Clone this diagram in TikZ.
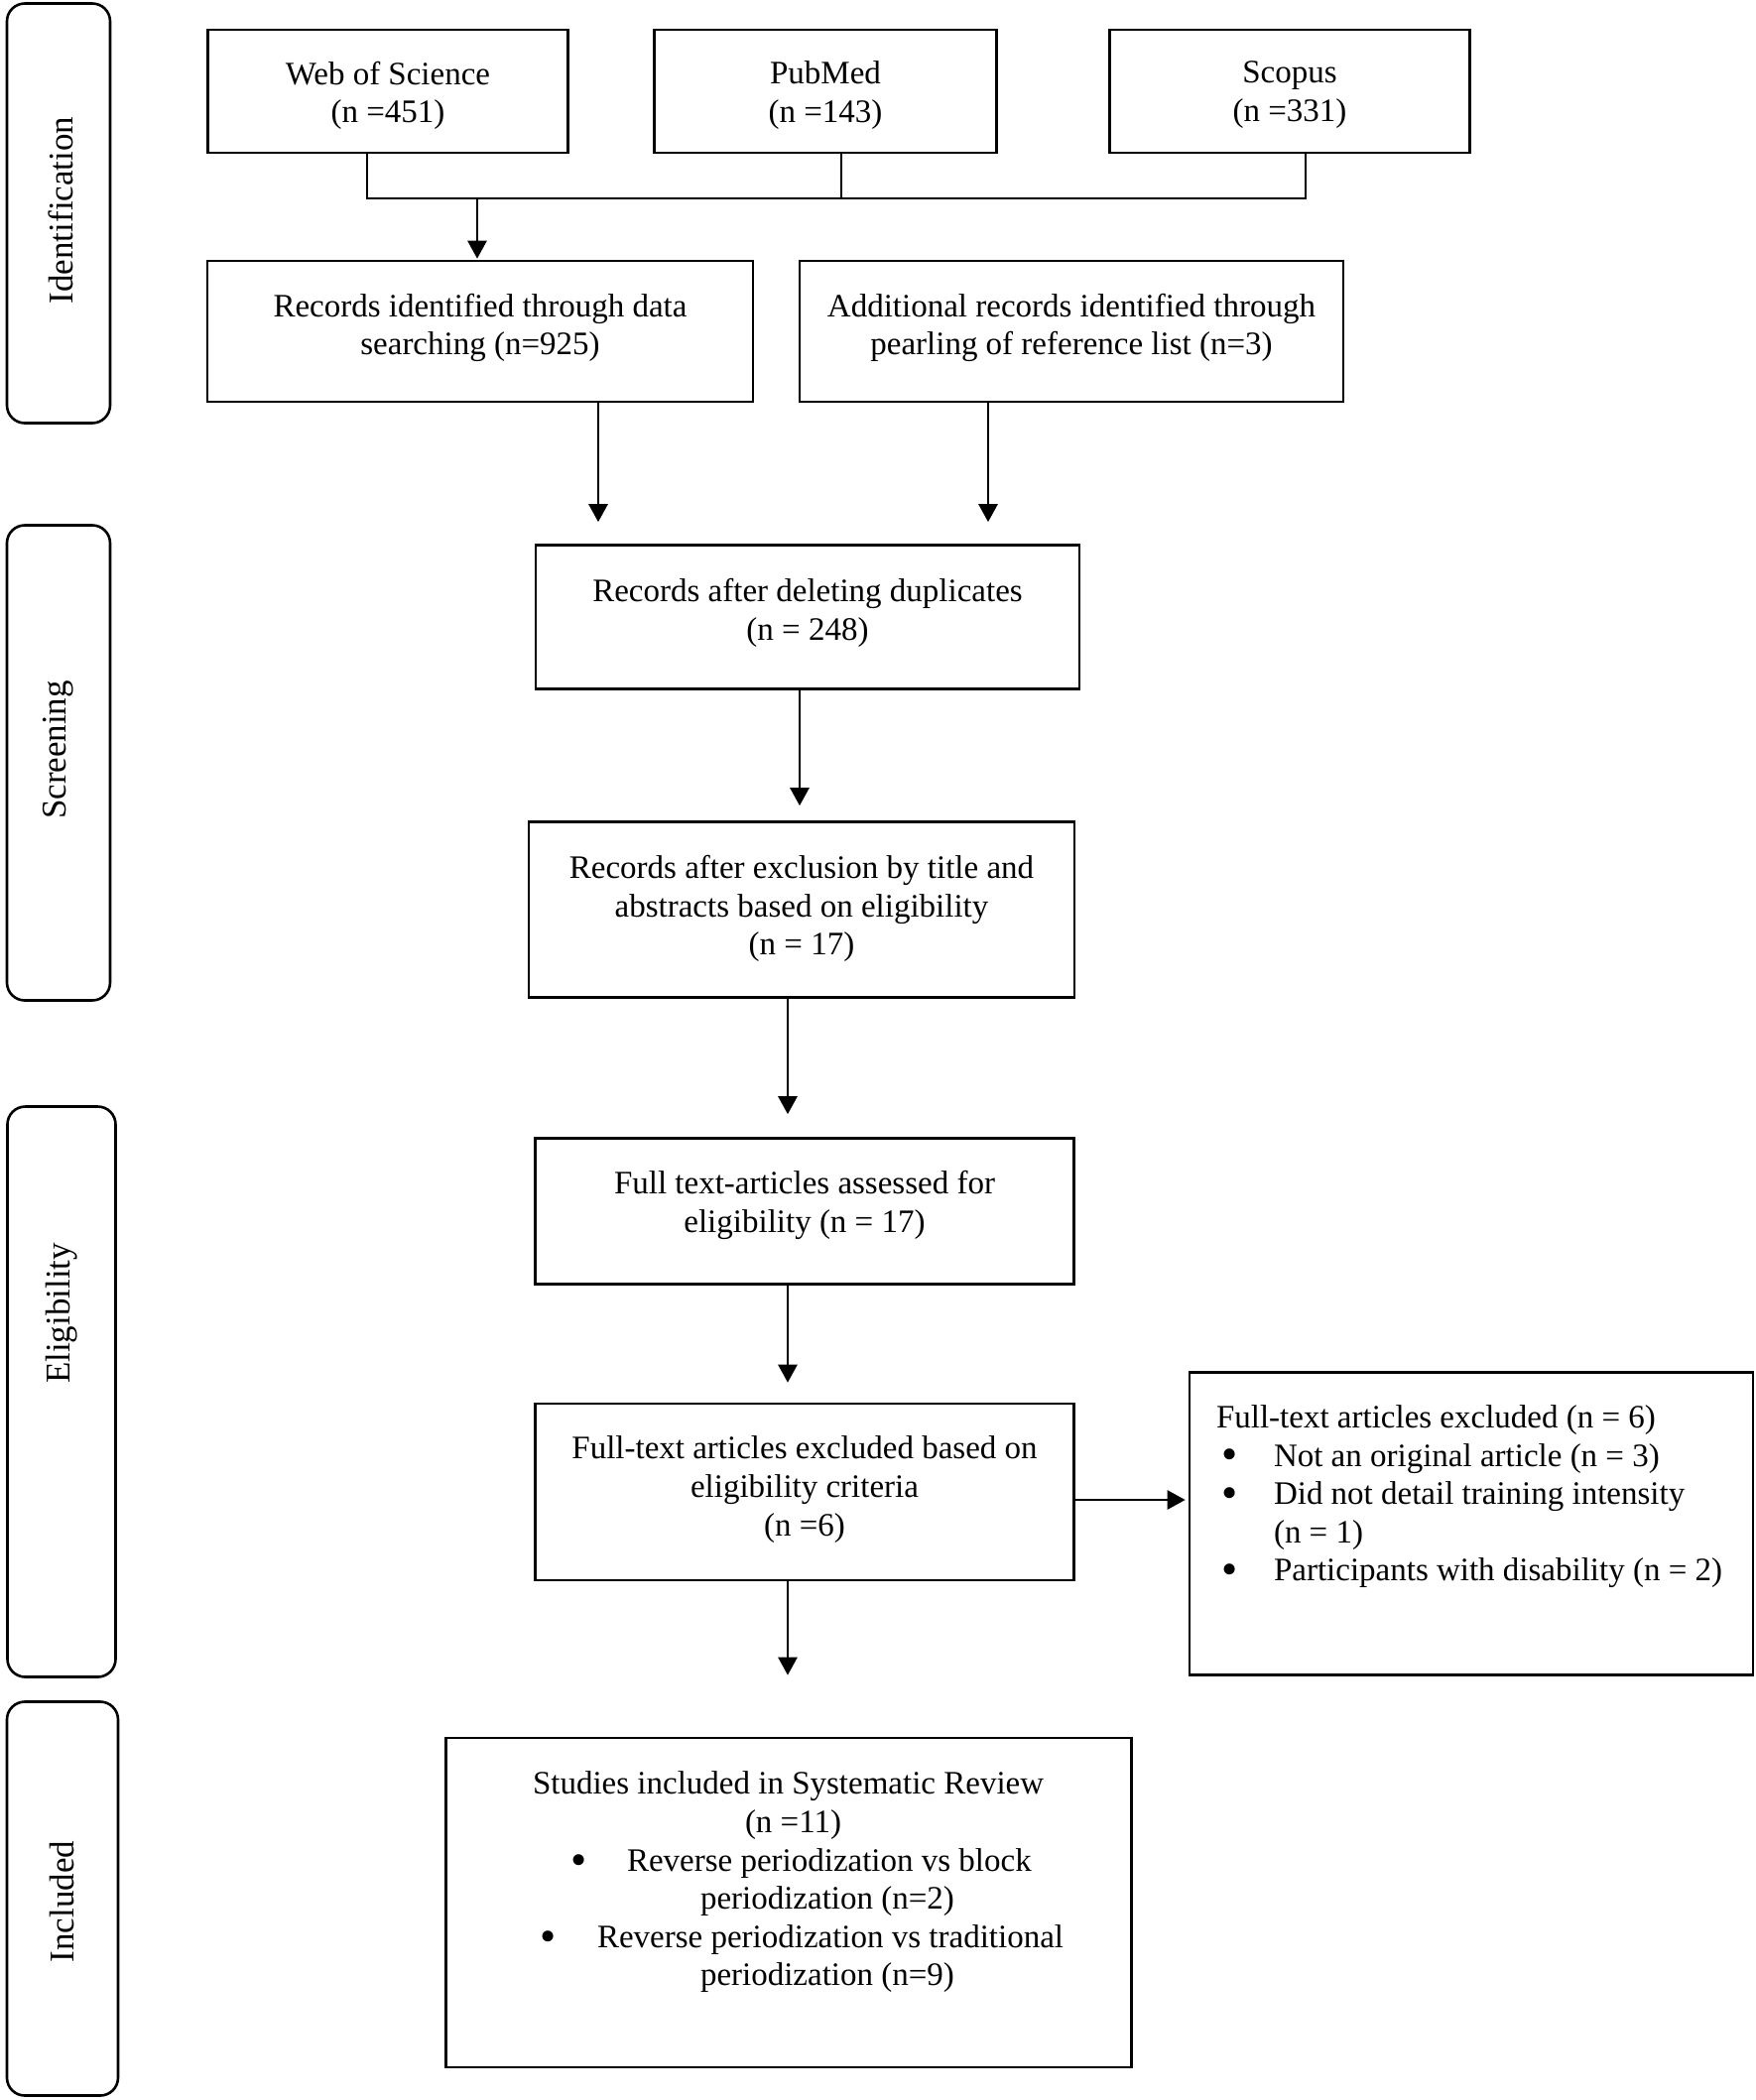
\documentclass[tikz,border=0pt]{standalone}
\usepackage{fontspec}
\setmainfont{Liberation Serif}
\usetikzlibrary{positioning,arrows.meta}

\tikzset{every picture/.style={line width=1.3pt}}
\tikzset{
  box/.style={draw, rectangle, inner sep=0pt},
  stage/.style={draw, rectangle, rounded corners=9pt, inner sep=0pt},
  stagetxt/.style={rotate=90, inner sep=0pt, font=\fontsize{17.5}{20}\selectfont},
  txt/.style={align=center, inner sep=0pt, font=\fontsize{16.5}{19.3}\selectfont},
  arr/.style={-{Triangle[length=9pt,width=9.5pt]}}
}
\newcommand{\dotmark}{\raisebox{-0.12em}{\scalebox{1.4}{\textbullet}}}
\newcommand{\blt}{\hspace*{2.5pt}\makebox[26.5pt][l]{\dotmark}}

\begin{document}
\begin{tikzpicture}[x=0.5pt,y=-0.5pt]
\useasboundingbox (0,0) rectangle (1770,2117);

%Shape: Rounded Rect (stages)
\node[stage, minimum width=52pt, minimum height=211.5pt] (idn) at (59,215) {};
\node[stage, minimum width=52pt, minimum height=239.5pt] (scr) at (59,769) {};
\node[stage, minimum width=54.5pt, minimum height=287.5pt] (elg) at (62,1403) {};
\node[stage, minimum width=56pt, minimum height=198.5pt] (icl) at (63,1914) {};
% Text Node
\node[stagetxt] (idnt) at (61,212) {Identification};
\node[stagetxt] (scrt) at (59,756) {Screening};
\node[stagetxt] (elgt) at (62,1324) {Eligibility};
\node[stagetxt] (iclt) at (63,1917) {Included};

%Shape: Rectangle (databases)
\node[box, minimum width=181.5pt, minimum height=62pt] (wos) at (391,92) {};
\node[box, minimum width=172.5pt, minimum height=62pt] (pub) at (832,92) {};
\node[box, minimum width=181.5pt, minimum height=62pt] (sco) at (1300,92) {};
% Text Node
\node[txt, below=16pt of wos.north] (wost) {Web of Science\\(n =451)};
\node[txt, below=16pt of pub.north] (pubt) {PubMed\\(n =143)};
\node[txt, below=16pt of sco.north] (scot) {Scopus\\(n =331)};

%Shape: Rectangle (flow)
\node[box, minimum width=275pt, minimum height=71pt] (rid) at (484,334) {};
\node[box, minimum width=274pt, minimum height=71pt] (add) at (1080,334) {};
\node[box, minimum width=274pt, minimum height=72.5pt] (dup) at (814,622) {};
\node[box, minimum width=275pt, minimum height=88.5pt] (ttl) at (808,917) {};
\node[box, minimum width=271.5pt, minimum height=73.5pt] (ful) at (811,1221) {};
\node[box, minimum width=271.5pt, minimum height=89pt] (exf) at (811,1504) {};
\node[box, minimum width=284pt, minimum height=152.5pt] (lst) at (1483,1536) {};
\node[box, minimum width=345.5pt, minimum height=166pt] (inc) at (795,1918) {};

% Text Node
\node[txt, below=16.5pt of rid.north] (ridt) {Records identified through data\\searching (n=925)};
\node[txt, below=16.5pt of add.north] (addt) {Additional records identified through\\pearling of reference list (n=3)};
\node[txt, below=17pt of dup.north] (dupt) {Records after deleting duplicates\\(n = 248)};
\node[txt, below=17pt of ttl.north] (ttlt) {Records after exclusion by title and\\abstracts based on eligibility\\(n = 17)};
\node[txt, below=16.5pt of ful.north] (fult) {Full text-articles assessed for\\eligibility (n = 17)};
\node[txt, below=16.5pt of exf.north] (exft) {Full-text articles excluded based on\\eligibility criteria\\(n =6)};
\node[txt, align=left, anchor=north west, inner sep=0pt] (lstt) at ([xshift=13.5pt,yshift=-16.5pt]lst.north west)
  {Full-text articles excluded (n = 6)\\
   \blt Not an original article (n = 3)\\
   \blt Did not detail training intensity\\
   \hspace*{29pt}(n = 1)\\
   \blt Participants with disability (n = 2)};
\node[txt, align=left, anchor=north west, inner sep=0pt] (inct) at ([xshift=43.75pt,yshift=-17pt]inc.north west)
  {Studies included in Systematic Review\\
   \hspace*{107pt}(n =11)\\
   \hspace*{19pt}\makebox[28.5pt][l]{\dotmark}Reverse periodization vs block\\
   \hspace*{84.5pt}periodization (n=2)\\
   \hspace*{3.5pt}\makebox[29pt][l]{\dotmark}Reverse periodization vs traditional\\
   \hspace*{84.5pt}periodization (n=9)};

%Straight Lines (database bus)
\coordinate (busW) at (370,200);
\coordinate (busP) at (848,200);
\coordinate (busS) at (1316,200);
\coordinate (busA) at (481,200);
\draw (busW |- wos.south) -- (busW) -- (busS) -- (busS |- sco.south);
\draw (busP |- pub.south) -- (busP);
\draw[arr, shorten >=0.5pt] (busA) -- (busA |- rid.north);

%Straight Lines (arrows)
\coordinate (ridout) at ([xshift=59.5pt]rid.south);
\coordinate (addout) at ([xshift=-42pt]add.south);
\coordinate (dupout) at ([xshift=-4pt]dup.south);
\coordinate (ttlout) at ([xshift=-7pt]ttl.south);
\coordinate (fulout) at ([xshift=-8.5pt]ful.south);
\coordinate (exfout) at ([xshift=-8.5pt]exf.south);
\coordinate (exfside) at ([yshift=-4pt]exf.east);
\draw[arr, shorten >=11pt] (ridout) -- (ridout |- dup.north);
\draw[arr, shorten >=11pt] (addout) -- (addout |- dup.north);
\draw[arr, shorten >=7.5pt] (dupout) -- (dupout |- ttl.north);
\draw[arr, shorten >=11.5pt] (ttlout) -- (ttlout |- ful.north);
\draw[arr, shorten >=10pt] (fulout) -- (fulout |- exf.north);
\draw[arr, shorten >=1.5pt] (exfside) -- (exfside -| lst.west);
\draw[arr, shorten >=31pt] (exfout) -- (exfout |- inc.north);

\end{tikzpicture}
\end{document}
